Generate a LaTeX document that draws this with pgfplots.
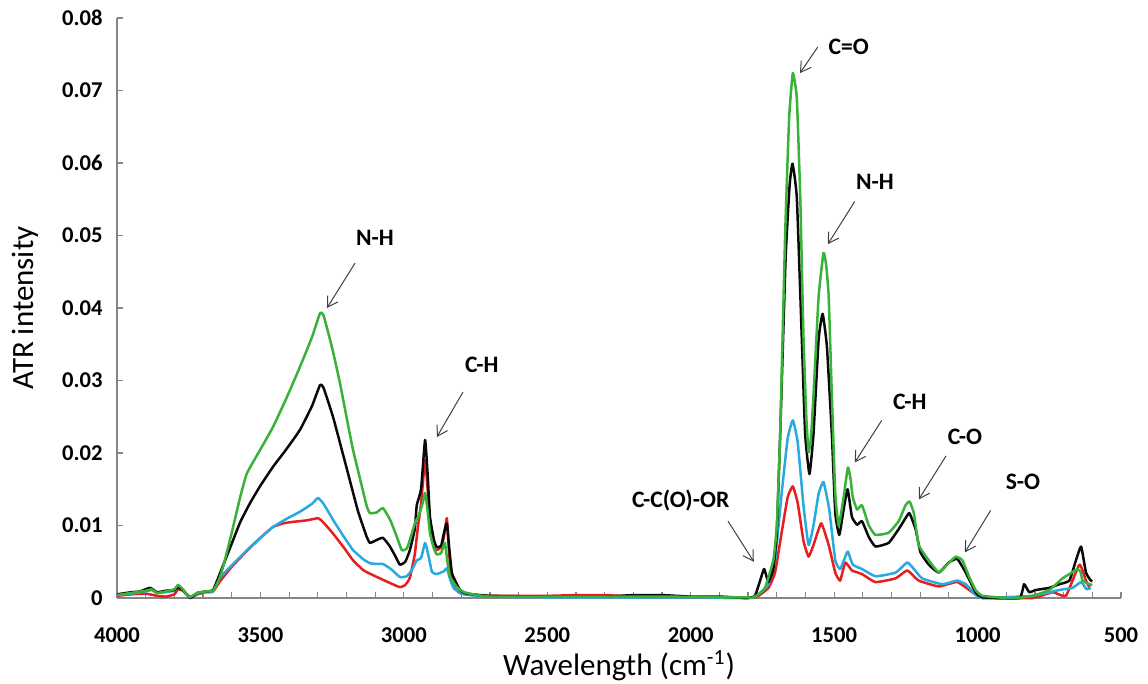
\documentclass[border=0pt]{standalone}
\usepackage{pgfplots}
\pgfplotsset{compat=1.18}
\usepackage{pgfplotstable}
\usepackage{fontspec}
\setmainfont{Carlito}
\usetikzlibrary{arrows.meta}

\definecolor{specgreen}{RGB}{56,178,56}
\definecolor{specblack}{RGB}{10,10,10}
\definecolor{specblue}{RGB}{40,170,225}
\definecolor{specred}{RGB}{230,30,30}
\definecolor{axisgray}{RGB}{134,134,134}

% ATR spectra: wavenumber (cm^-1), intensity
\pgfplotstableread{
x y
4000 0.0004
3950 0.0007
3900 0.0010
3880 0.0012
3860 0.0007
3830 0.0009
3800 0.0012
3787 0.0018
3770 0.0012
3748 0.0001
3720 0.0007
3690 0.0009
3665 0.0010
3645 0.0025
3630 0.0043
3600 0.0090
3570 0.0140
3547 0.0172
3500 0.0205
3456 0.0236
3410 0.0275
3362 0.0319
3320 0.0360
3292 0.0393
3280 0.0390
3250 0.0345
3223 0.0297
3200 0.0250
3177 0.0204
3150 0.0160
3129 0.0126
3118 0.0117
3095 0.0118
3073 0.0124
3048 0.0108
3025 0.0085
3007 0.0066
2990 0.0068
2979 0.0080
2960 0.0105
2950 0.0112
2935 0.0130
2926 0.0145
2917 0.0120
2909 0.0090
2895 0.0068
2885 0.0060
2870 0.0062
2857 0.0076
2848 0.0050
2839 0.0029
2815 0.0015
2790 0.0008
2745 0.0004
2700 0.0002
2500 0.0002
2300 0.0002
2100 0.0002
1900 0.0001
1800 0.0001
1787 0.0000
1764 0.0005
1741 0.0014
1712 0.0052
1700 0.0100
1688 0.0226
1671 0.0498
1657 0.0661
1644 0.0724
1630 0.0689
1618 0.0552
1607 0.0362
1597 0.0250
1589 0.0201
1580 0.0225
1572 0.0280
1554 0.0416
1537 0.0476
1528 0.0460
1519 0.0416
1508 0.0280
1496 0.0144
1484 0.0100
1467 0.0139
1452 0.0180
1443 0.0165
1435 0.0139
1420 0.0122
1403 0.0128
1379 0.0100
1356 0.0087
1310 0.0090
1275 0.0106
1251 0.0128
1237 0.0133
1222 0.0117
1205 0.0073
1170 0.0052
1135 0.0035
1106 0.0046
1076 0.0057
1053 0.0052
1030 0.0030
1007 0.0011
983 0.0003
900 0.0000
867 0.0000
808 0.0003
750 0.0011
704 0.0027
680 0.0033
651 0.0040
640 0.0035
634 0.0024
610 0.0019
600 0.0018
}\greendata

\pgfplotstableread{
x y
4000 0.0005
3950 0.0008
3920 0.0009
3885 0.0014
3860 0.0008
3830 0.0010
3800 0.0011
3787 0.0015
3770 0.0011
3745 0.0000
3720 0.0007
3690 0.0009
3665 0.0011
3641 0.0034
3600 0.0075
3570 0.0105
3536 0.0131
3500 0.0155
3456 0.0181
3410 0.0205
3362 0.0232
3320 0.0265
3292 0.0294
3280 0.0290
3247 0.0250
3220 0.0210
3198 0.0177
3160 0.0120
3130 0.0085
3118 0.0076
3095 0.0080
3073 0.0083
3050 0.0072
3030 0.0058
3014 0.0046
2995 0.0050
2979 0.0066
2962 0.0095
2955 0.0128
2940 0.0150
2926 0.0218
2917 0.0170
2909 0.0112
2895 0.0080
2885 0.0070
2870 0.0072
2860 0.0090
2850 0.0103
2842 0.0070
2832 0.0034
2804 0.0011
2780 0.0006
2700 0.0003
2500 0.0002
2300 0.0002
2200 0.0004
2100 0.0004
2000 0.0002
1900 0.0002
1800 0.0000
1776 0.0003
1758 0.0024
1744 0.0040
1729 0.0022
1712 0.0040
1700 0.0090
1688 0.0226
1669 0.0470
1655 0.0570
1645 0.0599
1630 0.0552
1613 0.0362
1601 0.0226
1586 0.0171
1572 0.0226
1554 0.0357
1540 0.0392
1525 0.0346
1508 0.0226
1496 0.0117
1482 0.0087
1467 0.0122
1453 0.0150
1438 0.0112
1420 0.0101
1403 0.0106
1379 0.0084
1356 0.0071
1310 0.0076
1275 0.0095
1245 0.0114
1237 0.0117
1216 0.0095
1199 0.0063
1170 0.0046
1135 0.0035
1100 0.0049
1071 0.0054
1041 0.0035
1007 0.0008
983 0.0001
855 0.0000
838 0.0019
820 0.0008
797 0.0011
750 0.0014
715 0.0019
680 0.0024
657 0.0052
639 0.0071
622 0.0035
605 0.0024
600 0.0023
}\blackdata

\pgfplotstableread{
x y
4000 0.0004
3950 0.0006
3900 0.0009
3880 0.0011
3860 0.0007
3830 0.0008
3800 0.0010
3787 0.0016
3770 0.0011
3745 0.0001
3720 0.0006
3690 0.0008
3665 0.0009
3641 0.0028
3600 0.0045
3547 0.0066
3500 0.0083
3456 0.0098
3410 0.0109
3362 0.0119
3320 0.0130
3299 0.0138
3280 0.0130
3247 0.0108
3210 0.0085
3177 0.0066
3140 0.0053
3118 0.0048
3095 0.0047
3073 0.0047
3045 0.0040
3014 0.0029
2990 0.0030
2970 0.0040
2955 0.0052
2940 0.0055
2926 0.0076
2915 0.0060
2902 0.0036
2885 0.0033
2860 0.0037
2850 0.0041
2838 0.0025
2825 0.0013
2790 0.0005
2700 0.0002
2500 0.0001
2000 0.0001
1800 0.0000
1764 0.0005
1729 0.0019
1706 0.0052
1683 0.0144
1662 0.0220
1644 0.0245
1627 0.0215
1607 0.0128
1589 0.0073
1572 0.0100
1554 0.0144
1537 0.0160
1517 0.0122
1496 0.0052
1479 0.0040
1461 0.0057
1452 0.0064
1435 0.0046
1403 0.0040
1356 0.0030
1286 0.0035
1245 0.0049
1222 0.0040
1193 0.0027
1123 0.0019
1071 0.0024
1041 0.0019
1007 0.0005
983 0.0000
808 0.0003
715 0.0011
669 0.0014
639 0.0022
620 0.0012
605 0.0014
}\bluedata

\pgfplotstableread{
x y
4000 0.0003
3950 0.0005
3900 0.0006
3860 0.0003
3830 0.0002
3800 0.0005
3787 0.0012
3770 0.0010
3745 0.0001
3720 0.0005
3690 0.0008
3665 0.0009
3641 0.0023
3600 0.0043
3547 0.0065
3500 0.0083
3456 0.0098
3420 0.0103
3387 0.0105
3340 0.0107
3299 0.0110
3280 0.0104
3247 0.0089
3210 0.0070
3177 0.0052
3140 0.0038
3094 0.0029
3050 0.0021
3014 0.0015
2995 0.0018
2979 0.0028
2962 0.0060
2951 0.0098
2940 0.0130
2926 0.0190
2917 0.0150
2905 0.0085
2890 0.0066
2870 0.0070
2860 0.0085
2850 0.0110
2842 0.0060
2830 0.0018
2800 0.0006
2700 0.0003
2500 0.0003
2400 0.0004
2300 0.0004
2200 0.0002
2000 0.0001
1800 0.0000
1764 0.0003
1729 0.0014
1706 0.0035
1683 0.0090
1662 0.0139
1644 0.0154
1627 0.0131
1607 0.0079
1589 0.0057
1572 0.0073
1545 0.0103
1519 0.0073
1496 0.0035
1479 0.0024
1461 0.0049
1438 0.0038
1403 0.0033
1356 0.0022
1286 0.0027
1245 0.0038
1205 0.0024
1135 0.0016
1071 0.0022
1018 0.0008
983 0.0000
808 0.0000
738 0.0008
692 0.0003
645 0.0046
622 0.0024
610 0.0014
}\reddata

\begin{document}
\begin{tikzpicture}
\begin{axis}[
  scale only axis,
  width=502bp, height=290bp,
  x dir=reverse,
  xmin=500, xmax=4000,
  ymin=0, ymax=0.08,
  axis x line=bottom, axis y line=left,
  axis line style={-, draw=axisgray, line width=0.7bp},
  tick style={draw=axisgray, line width=0.6bp},
  tick align=inside,
  major tick length=3bp, minor tick length=3bp,
  xtick={500,1000,...,4000},
  minor x tick num=4,
  ytick={0,0.01,...,0.08},
  scaled y ticks=false,
  /pgf/number format/assume math mode=true,
  xticklabel style={font=\fontsize{11.3bp}{13bp}\selectfont\bfseries, anchor=center, inner sep=0pt, yshift=-18.5bp},
  yticklabel style={font=\fontsize{11.3bp}{13bp}\selectfont\bfseries, anchor=east, inner sep=0pt, xshift=-7bp,
    /pgf/number format/.cd, fixed, precision=2},
  xticklabel={\pgfmathprintnumber[fixed,precision=0,1000 sep={}]{\tick}},
  every axis x label/.style={at={(axis description cs:0.5,-0.117)}, anchor=center, inner sep=0pt},
  every axis y label/.style={at={(axis description cs:-0.0916,0.5)}, rotate=90, anchor=center, inner sep=0pt},
  xlabel={Wavelength (cm\textsuperscript{-1})},
  ylabel={ATR intensity},
  label style={font=\fontsize{15.5bp}{17bp}\selectfont},
  clip=false,
  every axis plot/.append style={line width=1.25bp, line join=round, smooth, tension=0.25},
]
\addplot[specred] table {\reddata};
\addplot[specblue] table {\bluedata};
\addplot[specblack] table {\blackdata};
\addplot[specgreen] table {\greendata};

% band assignments
\begin{scope}[every node/.style={font=\fontsize{11.8bp}{13bp}\selectfont\bfseries, inner sep=0pt}]
\node at (axis cs:3101,0.0497) {N-H};
\node at (axis cs:2728,0.0321) {C-H};
\node at (axis cs:2035,0.0134) {C-C(O)-OR};
\node at (axis cs:1449,0.0760) {C=O};
\node at (axis cs:1358,0.0574) {N-H};
\node at (axis cs:1236,0.0270) {C-H};
\node at (axis cs:1044,0.0222) {C-O};
\node at (axis cs:842,0.0160) {S-O};
\end{scope}
\begin{scope}[draw=black!75, line width=0.5bp, -{Straight Barb[length=5bp,width=6bp]}]
\draw (axis cs:3170,0.0462) -- (axis cs:3268,0.0400);
\draw (axis cs:2794,0.0284) -- (axis cs:2885,0.0222);
\draw (axis cs:1870,0.0106) -- (axis cs:1780,0.0050);
\draw (axis cs:1557,0.0760) -- (axis cs:1619,0.0724);
\draw (axis cs:1428,0.0547) -- (axis cs:1522,0.0488);
\draw (axis cs:1334,0.0245) -- (axis cs:1428,0.0187);
\draw (axis cs:1110,0.0196) -- (axis cs:1205,0.0136);
\draw (axis cs:954,0.0121) -- (axis cs:1044,0.0063);
\end{scope}
\end{axis}
\pgfresetboundingbox
\path[use as bounding box] (-58.5bp,-43bp) rectangle (515.5bp,299bp);
\end{tikzpicture}
\end{document}
